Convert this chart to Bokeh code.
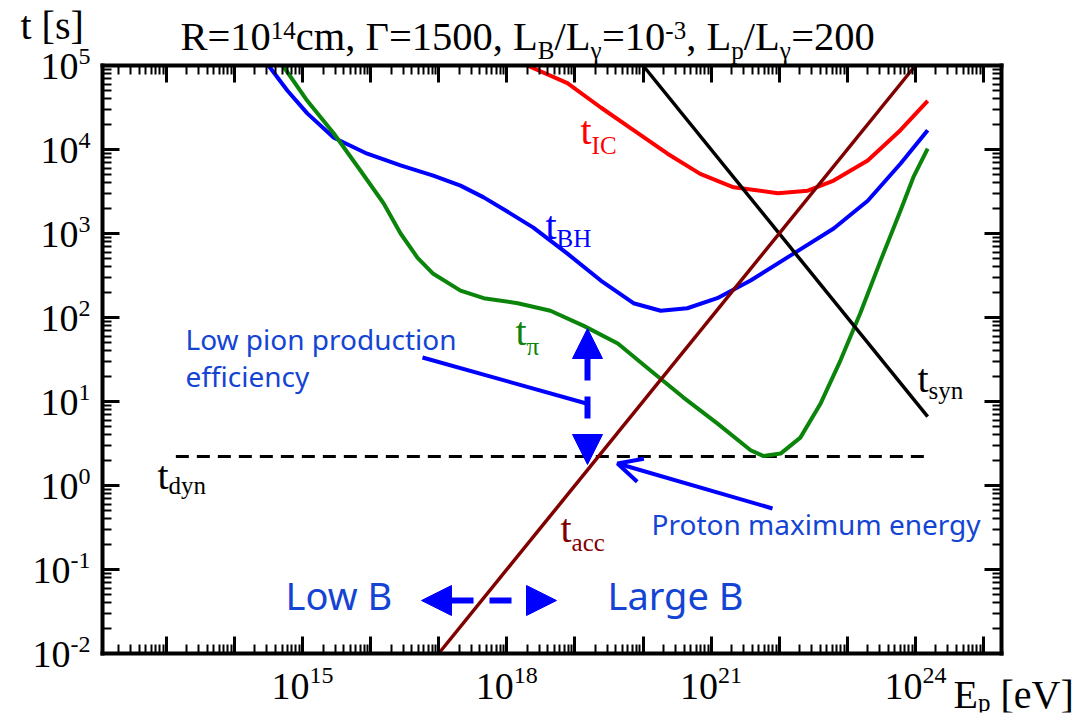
import numpy as np
from bokeh.plotting import figure
from bokeh.models import Label, Arrow, NormalHead, OpenHead, FixedTicker, LogAxis
from bokeh.embed import file_html
from bokeh.resources import INLINE

# ---------------- data (log10 values) ----------------
bh_logE = [14.50, 14.78, 15.07, 15.46, 15.95, 16.44, 16.92, 17.32, 17.66, 18.05, 18.39, 18.89,
           19.38, 19.86, 20.26, 20.65, 21.09, 21.58, 22.21, 22.80, 23.30, 23.78, 24.18]
bh_logt = [5.00, 4.70, 4.43, 4.14, 3.95, 3.81, 3.69, 3.57, 3.43, 3.24, 3.07, 2.76,
           2.44, 2.17, 2.08, 2.11, 2.23, 2.44, 2.76, 3.06, 3.39, 3.83, 4.23]

pi_logE = [14.71, 15.07, 15.46, 15.85, 16.19, 16.44, 16.69, 16.92, 17.32, 17.66, 18.16, 18.64,
           19.13, 19.63, 20.11, 20.59, 21.09, 21.58, 21.77, 22.02, 22.31, 22.61, 22.90, 23.19,
           23.49, 23.78, 23.97, 24.18]
pi_logt = [5.00, 4.58, 4.19, 3.75, 3.36, 3.00, 2.71, 2.52, 2.32, 2.23, 2.17, 2.08,
           1.90, 1.69, 1.37, 1.05, 0.74, 0.42, 0.35, 0.38, 0.57, 0.98, 1.49, 2.05,
           2.68, 3.27, 3.67, 4.01]

ic_logE = [18.30, 18.89, 19.38, 19.86, 20.36, 20.84, 21.33, 21.98, 22.42, 22.80, 23.30, 23.78, 24.18]
ic_logt = [5.00, 4.79, 4.50, 4.23, 3.95, 3.71, 3.55, 3.48, 3.51, 3.63, 3.87, 4.23, 4.58]

syn_logE = [20.0, 24.18]
syn_logt = [5.0, 0.82]

acc_logE = [17.0, 24.0]
acc_logt = [-2.0, 5.0]

dyn_logE = [13.14, 24.18]
dyn_logt = [0.345, 0.345]

x_major_exp = list(range(12, 26))
x_label_exp = [15, 18, 21, 24]
y_major_exp = list(range(-2, 6))

# ---------------- styling ----------------
RED = "#ff0000"
BLUE = "#0000ff"
GREEN = "#0b840b"
MAROON = "#800000"
TXTBLUE = "#1444d4"
SERIF = "Liberation Serif"
SANS = "Noto Sans"
BASE_K = {SERIF: 0.30, SANS: 0.47}   # baseline correction (fraction of font size)

X0, X1 = 12.063, 25.264      # log10 range of the boxed x axis
Y0, Y1 = -2.0, 5.0
FL, FR, FT, FB = 102, 1001, 65, 653   # box edges in canvas pixels
CW, CH, BRD = 1088, 716, 4


def E_at(px):
    return 10 ** (X0 + (px - FL) * (X1 - X0) / (FR - FL))


def t_at(py):
    return 10 ** (Y1 - (py - FT) * (Y1 - Y0) / (FB - FT))


def base_t(py, size, font=SERIF):
    return t_at(py - BASE_K[font] * size)


W = {' ': .25, ',': .25, '-': .333, '/': .278, '=': .564, '[': .333, ']': .333,
     'R': .667, 'L': .611, 'B': .667, 'E': .611, 'V': .722, 'I': .333, 'C': .667, 'H': .722,
     'Γ': .578, 'γ': .46, 'π': .55, 'a': .444, 'c': .444, 'e': .444, 'm': .778, 'n': .5,
     'p': .5, 's': .389, 't': .278, 'y': .5, 'd': .5}


def tw(s, size):
    return sum(W.get(ch, 0.5) for ch in s) * size


# the plotting frame fills the canvas; the boxed axes are drawn at fixed locations
p = figure(width=CW, height=CH, x_axis_type="log", y_axis_type="log",
           x_range=(E_at(BRD), E_at(CW - BRD)), y_range=(t_at(CH - BRD), t_at(BRD)),
           output_backend="svg", toolbar_location=None,
           min_border_left=BRD, min_border_right=BRD, min_border_top=BRD, min_border_bottom=BRD)
p.xgrid.visible = False
p.ygrid.visible = False
p.background_fill_color = "white"
p.border_fill_color = "white"
p.outline_line_color = None

xlo, xhi = 10 ** X0, 10 ** X1
ylo, yhi = 10 ** Y0, 10 ** Y1
x_major = [10.0 ** k for k in x_major_exp if xlo <= 10.0 ** k <= xhi]
x_minor = [m * 10.0 ** k for k in x_major_exp for m in range(2, 10) if xlo <= m * 10.0 ** k <= xhi]
y_major = [10.0 ** k for k in y_major_exp]
y_minor = [m * 10.0 ** k for k in y_major_exp for m in range(2, 10) if m * 10.0 ** k <= yhi]

top_ax = LogAxis()
right_ax = LogAxis()
p.add_layout(top_ax, "above")
p.add_layout(right_ax, "right")
axes = [(p.below[0], True, ylo), (top_ax, True, yhi), (p.left[0], False, xlo), (right_ax, False, xhi)]
for ax, is_x, loc in axes:
    ax.fixed_location = loc
    ax.bounds = (xlo, xhi) if is_x else (ylo, yhi)
    ax.ticker = FixedTicker(ticks=x_major if is_x else y_major,
                            minor_ticks=x_minor if is_x else y_minor)
    ax.major_tick_in = 17
    ax.major_tick_out = 0
    ax.minor_tick_in = 9
    ax.minor_tick_out = 0
    ax.major_tick_line_width = 3
    ax.minor_tick_line_width = 2
    ax.axis_line_width = 4
    ax.axis_line_cap = "square"
    ax.major_label_text_font_size = "1px"
    ax.major_label_text_alpha = 0
    ax.major_label_standoff = 0

# ---------------- curves ----------------
def L(a):
    return [10 ** v for v in a]


p.line(L(dyn_logE), L(dyn_logt), line_color="black", line_width=3, line_dash="13 8")
p.line(L(ic_logE), L(ic_logt), line_color=RED, line_width=4, line_join="round")
p.line(L(bh_logE), L(bh_logt), line_color=BLUE, line_width=4, line_join="round")
p.line(L(pi_logE), L(pi_logt), line_color=GREEN, line_width=4, line_join="round")
p.line(L(syn_logE), L(syn_logt), line_color="black", line_width=3.5)
p.line(L(acc_logE), L(acc_logt), line_color=MAROON, line_width=3.5)


# ---------------- text helpers ----------------
def runs(px, py, parts, color, main=40, small=25, sub=9, sup=11, font=SERIF):
    # parts: (text, kind, extra gap before in em of its size)
    x = px
    for part in parts:
        text, kind = part[0], part[1]
        size = main if kind == 'n' else small
        if len(part) > 2:
            x += part[2] * size
        dy = 0 if kind == 'n' else (sub if kind == 'sub' else -sup)
        p.add_layout(Label(x=E_at(x), y=base_t(py + dy, size, font), text=text, text_font=font,
                           text_font_size=f"{size}px", text_color=color,
                           text_align="left", text_baseline="alphabetic"))
        x += tw(text, size)


def txt(px, py, text, color, size, font=SANS):
    p.add_layout(Label(x=E_at(px), y=base_t(py, size, font), text=text, text_font=font,
                       text_font_size=f"{size}px", text_color=color,
                       text_align="left", text_baseline="alphabetic"))


# title and axis titles
runs(180, 48, [("R=10", 'n'), ("14", 'sup'), ("cm, Γ=1500, L", 'n'), ("B", 'sub'),
               ("/L", 'n'), ("γ", 'sub'), ("=10", 'n'), ("-3", 'sup'), (", L", 'n'),
               ("p", 'sub'), ("/L", 'n'), ("γ", 'sub'), ("=200", 'n')], "black", main=40.5)
runs(20, 37, [("t [s]", 'n')], "black")
runs(953, 706, [("E", 'n'), ("p", 'sub'), ("[eV]", 'n', 0.25)], "black", sub=3)

# tick labels
TK, TS = 38, 24
for e in y_major_exp:
    sup_s = str(e)
    sw = tw(sup_s, TS)
    tick_py = FT + (Y1 - e) * (FB - FT) / (Y1 - Y0)
    p.add_layout(Label(x=E_at(90), y=base_t(tick_py + 12, TK), x_offset=-sw, text="10",
                       text_font=SERIF, text_font_size=f"{TK}px", text_align="right",
                       text_baseline="alphabetic", text_color="black"))
    p.add_layout(Label(x=E_at(90), y=base_t(tick_py - 2, TS), text=sup_s,
                       text_font=SERIF, text_font_size=f"{TS}px", text_align="right",
                       text_baseline="alphabetic", text_color="black"))
for e in x_label_exp:
    sup_s = str(e)
    sw = tw(sup_s, TS)
    total = tw("10", TK) + sw
    p.add_layout(Label(x=10.0 ** e, y=base_t(697, TK), x_offset=-total / 2, text="10",
                       text_font=SERIF, text_font_size=f"{TK}px", text_align="left",
                       text_baseline="alphabetic", text_color="black"))
    p.add_layout(Label(x=10.0 ** e, y=base_t(682, TS), x_offset=-total / 2 + tw("10", TK), text=sup_s,
                       text_font=SERIF, text_font_size=f"{TS}px", text_align="left",
                       text_baseline="alphabetic", text_color="black"))

# curve labels
runs(580, 142, [("t", 'n'), ("IC", 'sub')], RED, sub=10)
runs(545, 237, [("t", 'n'), ("BH", 'sub')], BLUE, sub=8)
runs(515, 343, [("t", 'n'), ("π", 'sub')], GREEN, sub=10)
runs(917, 390, [("t", 'n'), ("syn", 'sub')], "black", sub=7)
runs(157, 487, [("t", 'n'), ("dyn", 'sub')], "black", sub=5)
runs(560, 540, [("t", 'n'), ("acc", 'sub')], MAROON, sub=9)

# annotations
txt(185, 352, "Low pion production", TXTBLUE, 28)
txt(185, 389, "efficiency", TXTBLUE, 28)
txt(651, 537, "Proton maximum energy", TXTBLUE, 28)
txt(285, 612, "Low B", TXTBLUE, 38)
txt(607, 612, "Large B", TXTBLUE, 38)


def head():
    return NormalHead(size=30, fill_color=BLUE, line_color=BLUE, line_width=1)


p.add_layout(Arrow(start=head(), end=head(), x_start=E_at(587), y_start=t_at(328),
                   x_end=E_at(587), y_end=t_at(464), line_color=BLUE, line_width=6,
                   line_dash="22 16", line_dash_offset=8))
p.add_layout(Arrow(start=head(), end=head(), x_start=E_at(421), y_start=t_at(600),
                   x_end=E_at(556), y_end=t_at(600), line_color=BLUE, line_width=6,
                   line_dash="22 16", line_dash_offset=8))
p.add_layout(Arrow(end=None, x_start=E_at(422), y_start=t_at(357),
                   x_end=E_at(586), y_end=t_at(403), line_color=BLUE, line_width=4))
p.add_layout(Arrow(end=OpenHead(size=24, line_color=BLUE, line_width=4),
                   x_start=E_at(772), y_start=t_at(508), x_end=E_at(617), y_end=t_at(463),
                   line_color=BLUE, line_width=4))

open("out.html", "w").write(file_html(p, INLINE))
